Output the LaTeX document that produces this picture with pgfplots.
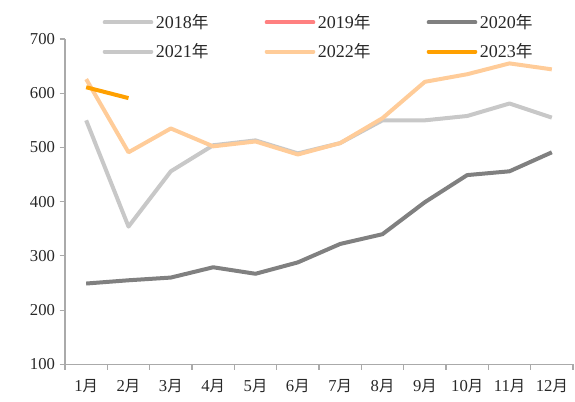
\documentclass[border=0pt]{standalone}
\usepackage{fontspec}
\setmainfont{Liberation Serif}
\newfontfamily\cjk{Noto Sans CJK SC}
\usepackage{pgfplots}
\pgfplotsset{compat=1.18}
\definecolor{cA}{RGB}{200,200,200}
\definecolor{cB}{RGB}{255,128,128}
\definecolor{cC}{RGB}{128,128,128}
\definecolor{cD}{RGB}{200,200,200}
\definecolor{cE}{RGB}{255,204,153}
\definecolor{cF}{RGB}{255,160,0}
\definecolor{axgray}{RGB}{170,170,170}
\definecolor{txt}{RGB}{40,40,40}
\newcommand{\yue}{{\cjk\fontsize{11.5}{13}\selectfont 月}}
\newcommand{\nian}{{\cjk\fontsize{12.5}{14}\selectfont 年}}

\begin{document}
\begin{tikzpicture}
\begin{axis}[
    name=ax,
    scale only axis,
    width=381pt, height=244pt,
    xmin=0.5, xmax=12.5, ymin=100, ymax=700,
    axis x line*=bottom, axis y line*=left,
    axis line style={axgray, line width=0.8pt},
    xtick={1,...,12},
    xticklabels={1\yue,2\yue,3\yue,4\yue,5\yue,6\yue,7\yue,8\yue,9\yue,10\yue,11\yue,12\yue},
    minor xtick={0.5,1.5,...,12.5},
    major x tick style={draw=none},
    minor tick length=4pt,
    ytick={100,200,...,700},
    major tick length=4pt,
    tick align=outside,
    tick style={axgray, line width=0.8pt},
    every tick label/.append style={font=\fontsize{12.5}{14}\selectfont, text=txt},
    xticklabel style={yshift=-4pt},
    /pgf/number format/assume math mode=true,
    legend columns=3,
    legend style={draw=none, fill=none, at={(0.5,1.0)}, anchor=center, yshift=1.5pt,
      font=\fontsize{13.5}{15}\selectfont, text=txt,
      /tikz/every even column/.append style={column sep=40pt},
      row sep=6pt},
    legend cell align=left,
    legend image code/.code={\draw[#1, line width=3pt, line cap=round] (0pt,0pt) -- (35pt,0pt);},
    every axis plot/.append style={line width=3pt, line join=round},
    clip=false,
  ]
  \addlegendimage{cA}
  \addlegendentry{2018\nian}
  \addlegendimage{cB}
  \addlegendentry{2019\nian}
  \addplot[cC] coordinates {(1,249) (2,255) (3,260) (4,279) (5,267) (6,288) (7,322) (8,340) (9,399) (10,449) (11,456) (12,491)};
  \addlegendentry{2020\nian}
  \addplot[cD] coordinates {(1,550) (2,354) (3,456) (4,504) (5,513) (6,489) (7,508) (8,550) (9,550) (10,558) (11,581) (12,555)};
  \addlegendentry{2021\nian}
  \addplot[cE] coordinates {(1,626) (2,491) (3,535) (4,502) (5,511) (6,487) (7,508) (8,554) (9,621) (10,635) (11,655) (12,644)};
  \addlegendentry{2022\nian}
  \addplot[cF] coordinates {(1,611) (2,591)};
  \addlegendentry{2023\nian}
\end{axis}
\pgfresetboundingbox
\path ([shift={(-48.75pt,-27.75pt)}]ax.south west) rectangle ([shift={(1.5pt,29.25pt)}]ax.north east);
\end{tikzpicture}
\end{document}
